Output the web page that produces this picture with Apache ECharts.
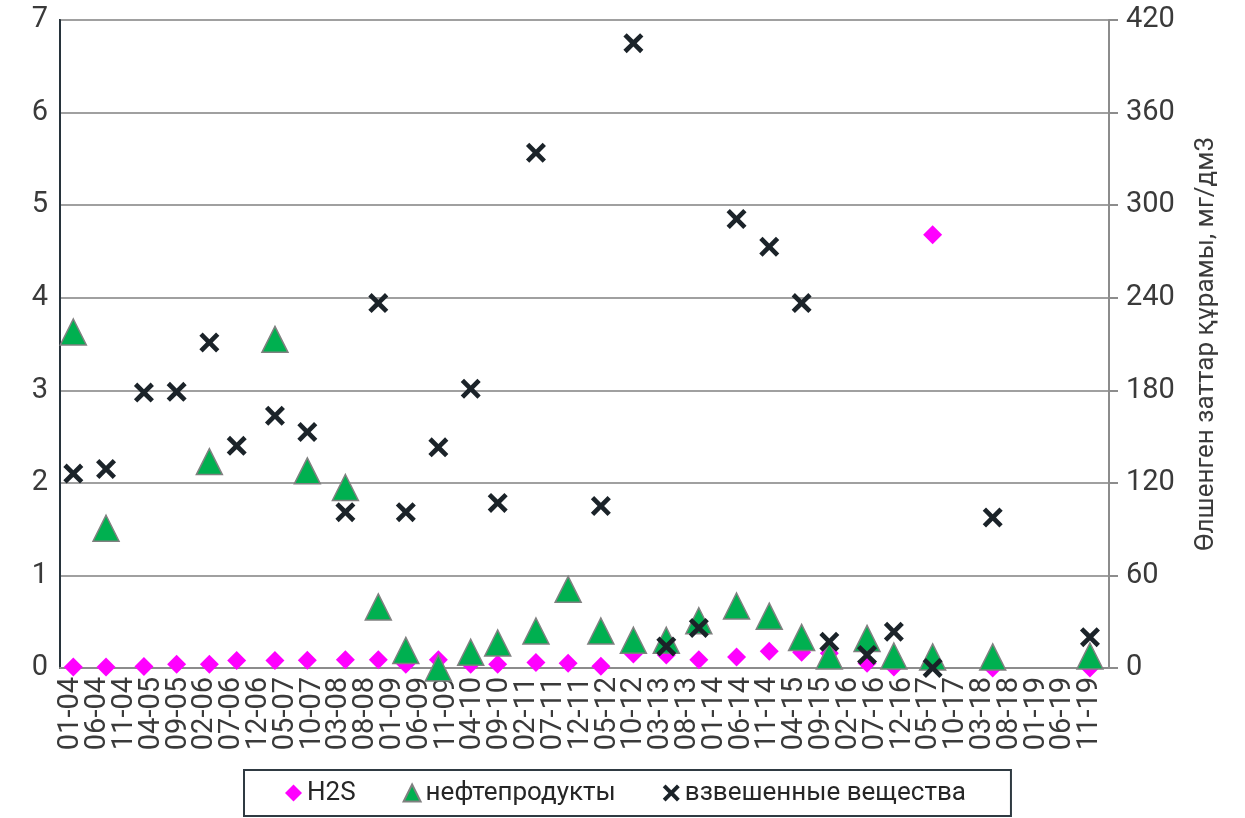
<!DOCTYPE html>
<html>
<head>
<meta charset="utf-8">
<script src="https://cdn.jsdelivr.net/npm/echarts@6/dist/echarts.min.js"></script>
<style>
html,body{margin:0;padding:0;background:#fff;}
#chart{width:1245px;height:818px;}
</style>
</head>
<body>
<div id="chart"></div>
<script>
// Sampling dates
const sampleDates = [
  '2004-01-14','2004-07-17','2005-02-19','2005-08-22','2006-02-25','2006-07-28',
  '2007-03-02','2007-09-03','2008-04-06','2008-10-10','2009-03-14','2009-09-16',
  '2010-03-17','2010-08-18','2011-03-22','2011-09-22','2012-03-25','2012-09-27',
  '2013-04-01','2013-10-03','2014-05-04','2014-11-07','2015-05-08','2015-10-13',
  '2016-05-14','2016-10-14','2017-05-21','2018-04-27','2019-11-01'
];
// H2S, left axis
const h2s = [
  0.01,0.01,0.015,0.04,0.04,0.08,
  0.08,0.085,0.09,0.09,0.04,0.09,
  0.04,0.04,0.06,0.05,0.02,0.15,
  0.14,0.09,0.12,0.18,0.17,0.16,
  0.05,0.01,4.68,0,0
];
// нефтепродукты, left axis
const oil = [
  3.63,1.51,null,null,2.23,null,
  3.55,2.13,1.95,0.66,0.19,0.0,
  0.17,0.27,0.40,0.85,0.40,0.30,
  0.30,0.51,0.67,0.56,0.33,0.13,
  0.32,0.13,0.12,0.12,0.13
];
// взвешенные вещества, right axis
const suspended = [
  126,129,178.5,179,211,144,
  163.5,153,101,236.5,101,143,
  181,107,334,null,105,405,
  14,26,291,273,236.5,17,
  8.5,23.5,0,97.5,20
];
// x tick labels, one every 5 months starting 01-04
const xLabels = [
  '01-04','06-04','11-04','04-05','09-05','02-06','07-06','12-06','05-07','10-07',
  '03-08','08-08','01-09','06-09','11-09','04-10','09-10','02-11','07-11','12-11',
  '05-12','10-12','03-13','08-13','01-14','06-14','11-14','04-15','09-15','02-16',
  '07-16','12-16','05-17','10-17','03-18','08-18','01-19','06-19','11-19'
];
const seriesNames = ['H2S','нефтепродукты','взвешенные вещества'];
const rightAxisName = 'Өлшенген заттар құрамы, мг/дм3';
const leftTicks = {min:0, max:7, interval:1};
const rightTicks = {min:0, max:420, interval:60};
const axisStartYear = 2004;    // month 0 = Jan 2004
const labelStep = 5;           // months between labels
const axisMinMonth = -2.05;    // axis extent in months from Jan 2004
const axisMaxMonth = 193.55;

function monthIndex(s){
  const p = s.split('-').map(Number);
  return (p[0]-axisStartYear)*12 + (p[1]-1) + (p[2]-1)/30;
}
function pairs(vals){
  const out = [];
  vals.forEach((v,i)=>{ if(v!==null) out.push([monthIndex(sampleDates[i]), v]); });
  return out;
}
// label positions; the axis ends carry empty labels
const labelPositions = [axisMinMonth].concat(xLabels.map((_,i)=>i*labelStep), [axisMaxMonth]);
function monthLabel(v){
  const i = Math.round(v/labelStep);
  if (Math.abs(v - i*labelStep) > 1e-6) return '';
  return xLabels[i] || '';
}

const xPath = 'path://M3.3,0 L10,6.7 L16.7,0 L20,3.3 L13.3,10 L20,16.7 L16.7,20 L10,13.3 L3.3,20 L0,16.7 L6.7,10 L0,3.3 Z';
const txt = '#3a3a3a';
const font = 'Roboto';

const chart = echarts.init(document.getElementById('chart'), null, {renderer:'canvas'});
chart.setOption({
  animation:false,
  backgroundColor:'#fff',
  textStyle:{fontFamily:font},
  grid:{left:60, right:136, top:20, bottom:150, show:true, borderColor:'#27333b', borderWidth:2, containLabel:false},
  legend:{
    left:244, top:770,
    padding:[10,45,10,41],
    itemGap:47,
    itemWidth:17, itemHeight:17,
    borderColor:'#2f3a42', borderWidth:2, backgroundColor:'#fff',
    textStyle:{fontFamily:font, fontSize:26, color:'#262626'},
    data:[
      {name:seriesNames[0], icon:'diamond'},
      {name:seriesNames[1], icon:'triangle'},
      {name:seriesNames[2], icon:xPath}
    ]
  },
  xAxis:{
    type:'value', min:axisMinMonth, max:axisMaxMonth,
    axisLine:{show:true, onZero:false, lineStyle:{color:'#8c8c8c', width:2}},
    axisTick:{show:false},
    splitLine:{show:false},
    axisLabel:{rotate:90, margin:9, fontSize:29, color:txt, fontFamily:font,
      customValues:labelPositions, formatter:monthLabel,
      showMinLabel:false, showMaxLabel:false, hideOverlap:false}
  },
  yAxis:[
    {type:'value', min:leftTicks.min, max:leftTicks.max, interval:leftTicks.interval, position:'left',
     axisLine:{show:true, onZero:false, lineStyle:{color:'#27333b', width:2}},
     axisTick:{show:false},
     splitLine:{show:true, lineStyle:{color:'#a0a0a0', width:2}},
     axisLabel:{fontSize:29, color:txt, margin:12, fontFamily:font}},
    {type:'value', min:rightTicks.min, max:rightTicks.max, interval:rightTicks.interval, position:'right',
     name:rightAxisName, nameLocation:'middle', nameRotate:90, nameGap:84,
     nameTextStyle:{fontSize:26, color:txt, fontFamily:font},
     axisLine:{show:true, onZero:false, lineStyle:{color:'#8c8c8c', width:2}},
     axisTick:{show:true, inside:false, length:9, lineStyle:{color:'#8c8c8c', width:2}},
     splitLine:{show:false},
     axisLabel:{fontSize:29, color:txt, margin:17, fontFamily:font}}
  ],
  series:[
    {name:seriesNames[0], type:'scatter', yAxisIndex:0, symbol:'diamond', symbolSize:19, clip:false,
     itemStyle:{color:'#ff00ff', opacity:1}, data:pairs(h2s), z:3},
    {name:seriesNames[1], type:'scatter', yAxisIndex:0, symbol:'triangle', symbolSize:26, clip:false,
     itemStyle:{color:'#00b050', borderColor:'#808080', borderWidth:1.5, opacity:1}, data:pairs(oil), z:4},
    {name:seriesNames[2], type:'scatter', yAxisIndex:1, symbol:xPath, symbolSize:20, clip:false,
     itemStyle:{color:'#1b2329', opacity:1}, data:pairs(suspended), z:5}
  ]
});
</script>
</body>
</html>
